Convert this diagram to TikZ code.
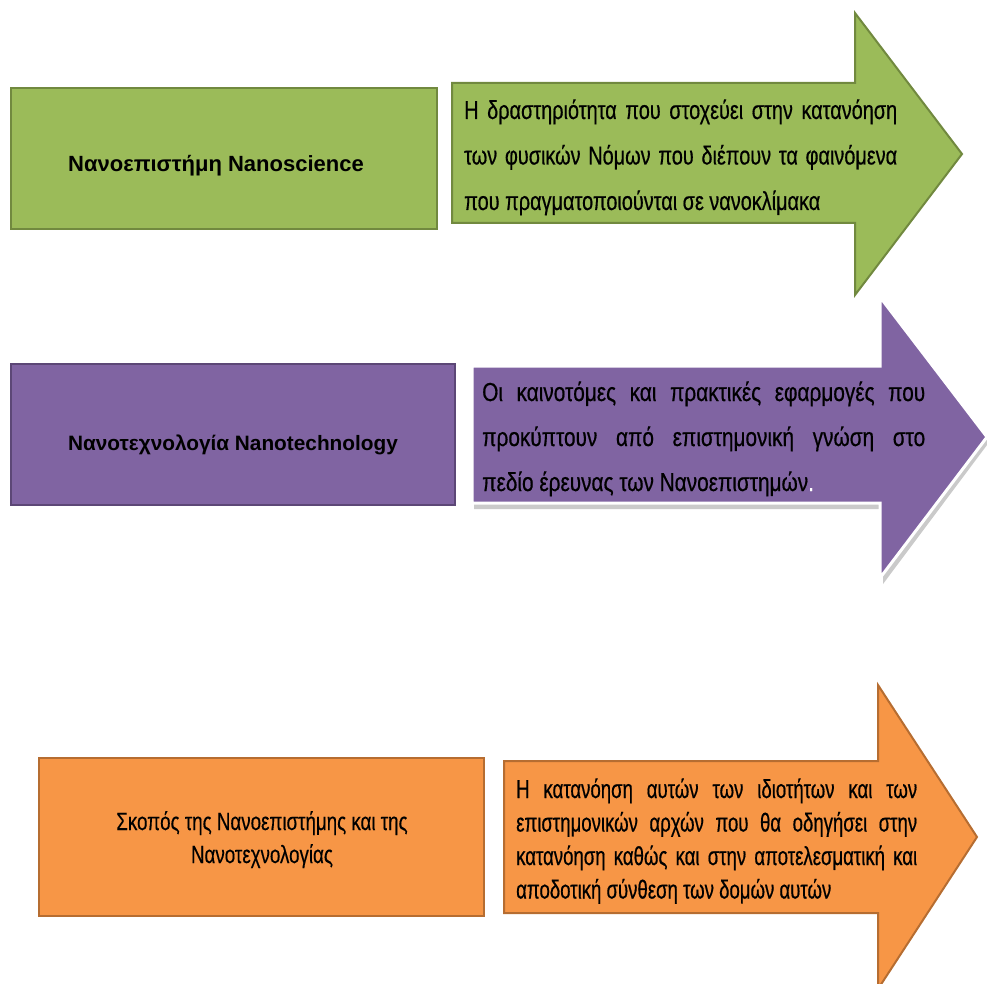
\documentclass[tikz,border=0pt]{standalone}
\usepackage{fontspec}
\setmainfont{Liberation Sans}
\newfontfamily\grfont[FakeStretch=0.765,FakeBold=0.5]{Liberation Sans}
\newfontfamily\pufont[FakeStretch=0.80,FakeBold=0.5]{Liberation Sans}
\newfontfamily\orfont[FakeStretch=0.715,FakeBold=0.5]{Liberation Sans}
\newfontfamily\obfont[FakeStretch=0.75,FakeBold=0.3]{Liberation Sans}
\definecolor{grfill}{HTML}{9BBB59}
\definecolor{grline}{HTML}{71893F}
\definecolor{pufill}{HTML}{8064A2}
\definecolor{puline}{HTML}{5C4776}
\definecolor{orfill}{HTML}{F79646}
\definecolor{orline}{HTML}{B66D31}
\tikzset{
  titlebox/.style={line width=2pt},
  arrowtext/.style={anchor=base west, inner sep=0pt},
  boxtitle/.style={inner sep=0pt, anchor=base},
}
\begin{document}
\begin{tikzpicture}[x=1pt,y=-1pt]
\useasboundingbox (0,0) rectangle (987,984);
\clip (0,0) rectangle (987,984);
% green row
\draw[titlebox, fill=grfill, draw=grline] (11,88) rectangle (437,229);
\node[boxtitle, font=\bfseries\fontsize{22}{26}\selectfont] (gt) at (216,172) {Νανοεπιστήμη Nanoscience};
\draw[line width=2pt, fill=grfill, draw=grline]
  (452,83) -- (855,83) -- (855,13) -- (962,154) -- (855,295) -- (855,223) -- (452,223) -- cycle;
\node[arrowtext, font=\grfont\fontsize{26}{45}\selectfont] (ga) at (464,119) {\vtop{\baselineskip=45.5pt
  \hbox to 433pt{Η δραστηριότητα που στοχεύει στην κατανόηση}
  \hbox to 433pt{των φυσικών Νόμων που διέπουν τα φαινόμενα}
  \hbox{που πραγματοποιούνται σε νανοκλίμακα}}};
% purple row
\draw[titlebox, fill=pufill, draw=puline] (11,364) rectangle (455,505);
\node[boxtitle, font=\bfseries\fontsize{20.8}{26}\selectfont] (pt) at (233,450) {Νανοτεχνολογία Nanotechnology};
\fill[black!35, opacity=0.6]
  (474,371) -- (883,371) -- (883,302) -- (990,441) -- (883,584) -- (883,509) -- (474,509) -- cycle;
\draw[line width=3pt, fill=pufill, draw=white]
  (472,366) -- (880,366) -- (880,297) -- (987,437) -- (880,578) -- (880,503) -- (472,503) -- cycle;
\node[arrowtext, font=\pufont\fontsize{26}{45}\selectfont] (pa) at (482,401) {\vtop{\baselineskip=45pt
  \hbox to 443pt{Οι καινοτόμες και πρακτικές εφαρμογές που}
  \hbox to 443pt{προκύπτουν από επιστημονική γνώση στο}
  \hbox{πεδίο έρευνας των Νανοεπιστημών\textcolor{white}{.}}}};
% orange row
\draw[titlebox, fill=orfill, draw=orline] (39,758) rectangle (484,916);
\node[boxtitle, align=center, font=\obfont\fontsize{25}{33}\selectfont] (ot) at (262,863)
  {Σκοπός της Νανοεπιστήμης και της\\Νανοτεχνολογίας};
\draw[line width=2pt, fill=orfill, draw=orline]
  (504,761) -- (878,761) -- (878,685) -- (977,837) -- (878,989) -- (878,913) -- (504,913) -- cycle;
\node[arrowtext, font=\orfont\fontsize{26}{33.5}\selectfont] (oa) at (516,798) {\vtop{\baselineskip=33.5pt
  \hbox to 401pt{Η κατανόηση αυτών των ιδιοτήτων και των}
  \hbox to 401pt{επιστημονικών αρχών που θα οδηγήσει στην}
  \hbox to 401pt{κατανόηση καθώς και στην αποτελεσματική και}
  \hbox{αποδοτική σύνθεση των δομών αυτών}}};
\end{tikzpicture}
\end{document}
